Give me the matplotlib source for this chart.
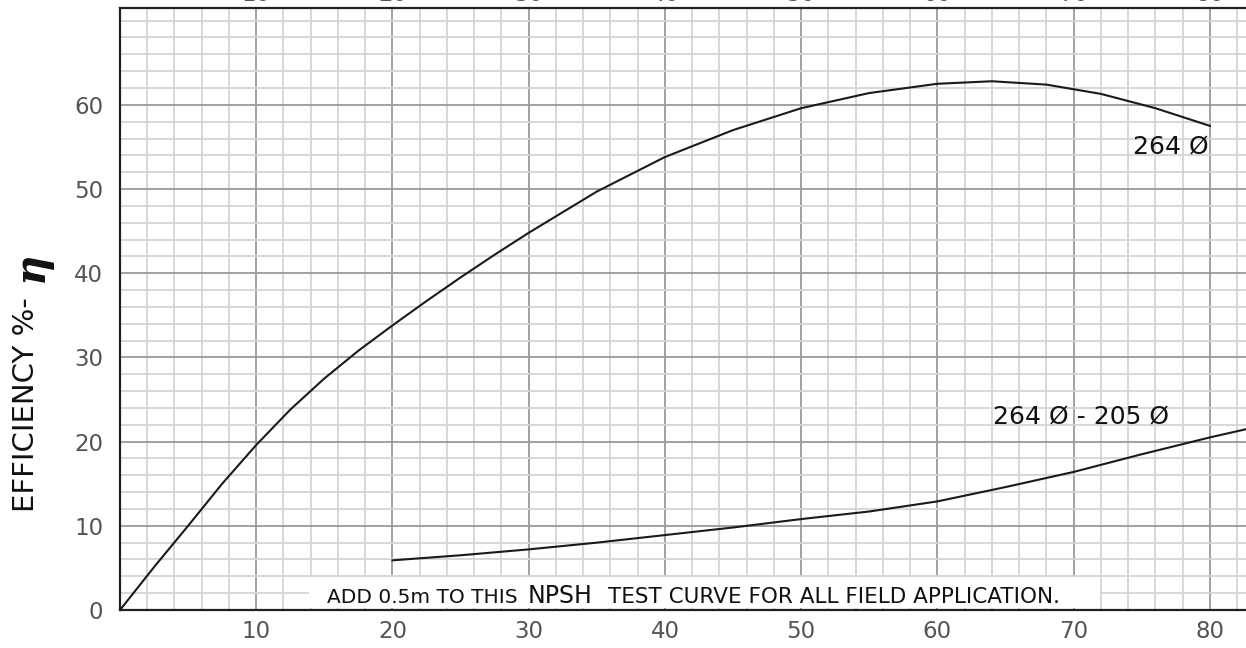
import matplotlib.pyplot as plt
from matplotlib.ticker import FixedLocator, MultipleLocator
from matplotlib.patches import Rectangle

# datos
flow_eff = [0, 2.5, 5, 7.5, 10, 12.5, 15, 17.5, 20, 22.5, 25, 27.5, 30, 35, 40, 45, 50, 55, 60, 64, 68, 72, 76, 80]
eff_264 = [0, 5.1, 10.0, 15.0, 19.6, 23.8, 27.5, 30.8, 33.8, 36.7, 39.5, 42.2, 44.8, 49.7, 53.8, 57.0, 59.6,
           61.4, 62.5, 62.8, 62.4, 61.3, 59.6, 57.5]

flow_low = [20, 25, 30, 35, 40, 45, 50, 55, 60, 65, 70, 75, 80, 83]
eff_low = [5.9, 6.5, 7.2, 8.0, 8.9, 9.8, 10.8, 11.7, 12.9, 14.6, 16.4, 18.5, 20.5, 21.6]

x_ticks = [10, 20, 30, 40, 50, 60, 70, 80]
y_ticks = [0, 10, 20, 30, 40, 50, 60]

tick_color = "#555555"
line_color = "#1a1a1a"

fig = plt.figure(figsize=(12.46, 6.48), dpi=100)
ax = fig.add_axes([120 / 1246, 38 / 648, 1 - 120 / 1246, 602 / 648])

ax.plot(flow_eff, eff_264, color=line_color, lw=1.5, zorder=3)
ax.plot(flow_low, eff_low, color=line_color, lw=1.5, zorder=3)

ax.set_xlim(0, 82.65)
ax.set_ylim(0, 71.5)

ax.xaxis.set_major_locator(FixedLocator(x_ticks))
ax.xaxis.set_minor_locator(MultipleLocator(2))
ax.yaxis.set_major_locator(FixedLocator(y_ticks))
ax.yaxis.set_minor_locator(MultipleLocator(2))

ax.set_axisbelow(True)
ax.grid(which="minor", color="#d4d4d4", lw=1.3)
ax.grid(which="major", color="#9a9a9a", lw=1.3)

ax.tick_params(which="both", length=0)
ax.tick_params(axis="x", labelsize=16.5, labelcolor=tick_color, pad=7)
ax.tick_params(axis="y", labelsize=16.5, labelcolor=tick_color, pad=12)

for s in ["left", "bottom", "top"]:
    ax.spines[s].set_linewidth(1.6)
    ax.spines[s].set_color("#222222")
ax.spines["right"].set_visible(False)

# etiquetas de arriba (cortadas por el borde, como en el original)
sec = ax.secondary_xaxis("top")
sec.set_xticks(x_ticks)
sec.tick_params(length=0, pad=1.5, labelsize=16.5, labelcolor=tick_color)
sec.spines["top"].set_visible(False)

# caja blanca con la nota
ax.add_patch(Rectangle((13.9, 0.25), 58.0, 3.7, facecolor="white", edgecolor="none", zorder=2))
ax.text(15.2, 0.85, "ADD 0.5m TO THIS", fontsize=14.5, color="#111111", va="baseline", zorder=4)
ax.text(29.95, 0.85, "NPSH", fontsize=17, color="#111111", va="baseline", zorder=4)
ax.text(35.8, 0.85, "TEST CURVE FOR ALL FIELD APPLICATION.", fontsize=15.5, color="#111111",
        va="baseline", zorder=4)

# etiquetas de las curvas
ax.text(79.9, 55.1, "264 Ø", fontsize=18, color="#111111", ha="right", va="center", zorder=4)
ax.text(64.1, 23.0, "264 Ø - 205 Ø", fontsize=18, color="#111111", ha="left", va="center", zorder=4)

# titulo del eje y
fig.text(26 / 1246, 1 - 405 / 648, "EFFICIENCY %-", rotation=90, fontsize=21, color="#111111",
         ha="center", va="center")
fig.text(31 / 1246, 1 - 267 / 648, "η", rotation=90, fontsize=30, color="#111111",
         ha="center", va="center", family="DejaVu Serif", style="italic", weight="bold")

fig.savefig("out.png", dpi=100)
